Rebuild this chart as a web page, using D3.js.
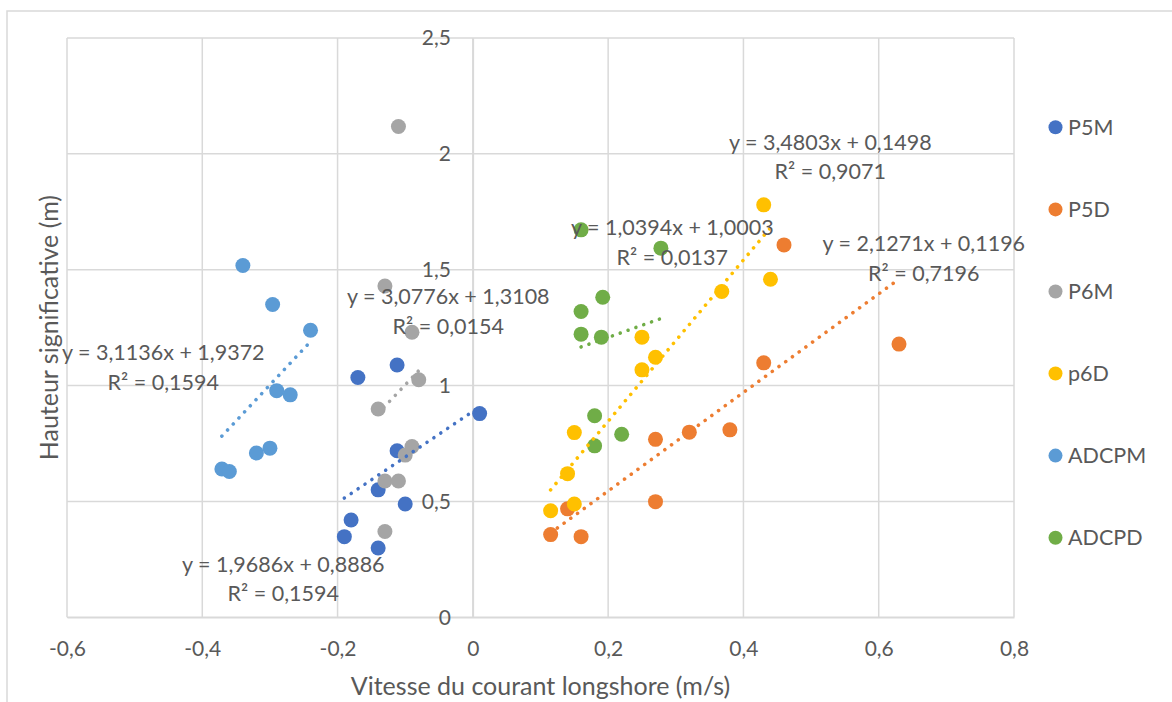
<!DOCTYPE html>
<html lang="fr">
<head>
<meta charset="utf-8">
<title>Hauteur significative vs courant longshore</title>
<script src="https://cdn.jsdelivr.net/npm/d3@7"></script>
<style>
  body { margin: 0; background: #fff; }
  text { font-family: Lato, "Open Sans", sans-serif; fill: #595959; }
</style>
</head>
<body>
<script>
// series (Excel order, later ones drawn on top)
var seriesNames  = ["P5M", "P5D", "P6M", "p6D", "ADCPM", "ADCPD"];
var seriesColors = ["#4472C4", "#ED7D31", "#A5A5A5", "#FFC000", "#5B9BD5", "#70AD47"];

// values
var p5mX   = [-0.17, -0.112, -0.112, -0.14, -0.18, -0.19, -0.14, 0.01, -0.10];
var p5mY   = [1.035, 1.089, 0.719, 0.55, 0.42, 0.348, 0.299, 0.879, 0.489];
var p5dX   = [0.46, 0.63, 0.43, 0.38, 0.32, 0.27, 0.27, 0.14, 0.115, 0.16];
var p5dY   = [1.607, 1.179, 1.098, 0.809, 0.799, 0.768, 0.499, 0.468, 0.357, 0.348];
var p6mX   = [-0.11, -0.13, -0.09, -0.08, -0.14, -0.09, -0.10, -0.13, -0.11, -0.13];
var p6mY   = [2.118, 1.43, 1.23, 1.025, 0.899, 0.737, 0.70, 0.588, 0.588, 0.37];
var p6dX   = [0.43, 0.44, 0.368, 0.25, 0.27, 0.25, 0.15, 0.14, 0.15, 0.115];
var p6dY   = [1.78, 1.459, 1.406, 1.209, 1.122, 1.068, 0.797, 0.62, 0.489, 0.46];
var adcpmX = [-0.34, -0.296, -0.24, -0.29, -0.27, -0.32, -0.30, -0.371, -0.36];
var adcpmY = [1.518, 1.35, 1.239, 0.978, 0.96, 0.709, 0.73, 0.64, 0.629];
var adcpdX = [0.16, 0.278, 0.192, 0.16, 0.16, 0.19, 0.18, 0.22, 0.18];
var adcpdY = [1.672, 1.593, 1.381, 1.32, 1.222, 1.209, 0.87, 0.79, 0.74];

var seriesX = [p5mX, p5dX, p6mX, p6dX, adcpmX, adcpdX];
var seriesY = [p5mY, p5dY, p6mY, p6dY, adcpmY, adcpdY];

// linear trendlines as printed on the chart
var trendSlope     = [1.9686, 2.1271, 3.0776, 3.4803, 3.1136, 1.0394];
var trendIntercept = [0.8886, 0.1196, 1.3108, 0.1498, 1.9372, 1.0003];
var trendR2        = [0.1594, 0.7196, 0.0154, 0.9071, 0.1594, 0.0137];

// axis ticks
var xTicks = [-0.6, -0.4, -0.2, 0, 0.2, 0.4, 0.6, 0.8];
var yTicks = [0, 0.5, 1, 1.5, 2, 2.5];

// where Excel left the equation boxes (data units, centre of first line)
var labelAnchorX = [-0.2803, 0.6666, -0.0364, 0.5284, -0.4577, 0.2948];
var labelAnchorY = [0.2288, 1.6118, 1.3843, 2.051, 1.1425, 1.6822];

var w = 1172, h = 702;
var plot = { left: 67, right: 1014, top: 38, bottom: 617.3 };
var gridColor = "#D9D9D9";

var svg = d3.select("body").append("svg")
    .attr("width", w)
    .attr("height", h);

// chart area border (cropped on right / bottom)
svg.append("rect")
    .attr("x", 7).attr("y", 11)
    .attr("width", w + 20).attr("height", h + 20)
    .attr("fill", "#fff")
    .attr("stroke", gridColor)
    .attr("stroke-width", 1.5);

var x = d3.scaleLinear().domain([-0.6, 0.8]).range([plot.left, plot.right]);
var y = d3.scaleLinear().domain([0, 2.5]).range([plot.bottom, plot.top]);

function frNum(v, digits) {
    var s = digits === undefined ? String(+v.toFixed(4)) : v.toFixed(digits);
    return s.replace(".", ",");
}

// gridlines
svg.append("g").selectAll("line")
    .data(xTicks)
    .enter().append("line")
    .attr("x1", d => x(d)).attr("x2", d => x(d))
    .attr("y1", plot.top).attr("y2", plot.bottom)
    .attr("stroke", gridColor).attr("stroke-width", 1.5);

svg.append("g").selectAll("line")
    .data(yTicks)
    .enter().append("line")
    .attr("x1", plot.left).attr("x2", plot.right)
    .attr("y1", d => y(d)).attr("y2", d => y(d))
    .attr("stroke", gridColor).attr("stroke-width", 1.5);

// axes: y axis crosses at x = 0, x axis labels below the plot
var xAxis = d3.axisBottom(x).tickValues(xTicks).tickSize(0).tickPadding(24)
    .tickFormat(d => frNum(d));
var yAxis = d3.axisLeft(y).tickValues(yTicks).tickSize(0).tickPadding(22)
    .tickFormat(d => frNum(d));

var gx = svg.append("g")
    .attr("transform", "translate(0," + plot.bottom + ")")
    .call(xAxis);
gx.select(".domain").attr("stroke", gridColor).attr("stroke-width", 1.5);

var gy = svg.append("g")
    .attr("transform", "translate(" + x(0) + ",0)")
    .call(yAxis);
gy.select(".domain").attr("stroke", gridColor).attr("stroke-width", 1.5);

svg.selectAll(".tick text")
    .attr("font-family", "Lato, sans-serif")
    .attr("font-size", "21px")
    .attr("fill", "#595959");

// markers
seriesNames.forEach(function(name, i) {
    var pts = seriesX[i].map((v, j) => [v, seriesY[i][j]]);
    svg.append("g").selectAll("circle")
        .data(pts)
        .enter().append("circle")
        .attr("cx", d => x(d[0]))
        .attr("cy", d => y(d[1]))
        .attr("r", 7.5)
        .attr("fill", seriesColors[i]);
});

// trendlines (round dots), from min x to max x of each series
seriesNames.forEach(function(name, i) {
    var x0 = d3.min(seriesX[i]), x1 = d3.max(seriesX[i]);
    svg.append("line")
        .attr("x1", x(x0)).attr("y1", y(trendSlope[i] * x0 + trendIntercept[i]))
        .attr("x2", x(x1)).attr("y2", y(trendSlope[i] * x1 + trendIntercept[i]))
        .attr("stroke", seriesColors[i])
        .attr("stroke-width", 3.6)
        .attr("stroke-linecap", "round")
        .attr("stroke-dasharray", "0.01 8.3");
});

// equation labels
seriesNames.forEach(function(name, i) {
    var cx = x(labelAnchorX[i]), cy = y(labelAnchorY[i]);
    var t = svg.append("text")
        .attr("text-anchor", "middle")
        .attr("font-size", "21.5px");
    t.append("tspan")
        .attr("x", cx).attr("y", cy).attr("dy", "0.35em")
        .text("y = " + frNum(trendSlope[i], 4) + "x + " + frNum(trendIntercept[i], 4));
    t.append("tspan")
        .attr("x", cx).attr("y", cy + 29.5).attr("dy", "0.35em")
        .text("R\u00B2 = " + frNum(trendR2[i], 4));
});

// axis titles
svg.append("text")
    .attr("x", (plot.left + plot.right) / 2)
    .attr("y", 686)
    .attr("dy", "0.35em")
    .attr("text-anchor", "middle")
    .attr("font-size", "25px")
    .text("Vitesse du courant longshore (m/s)");

svg.append("text")
    .attr("transform", "translate(49," + (plot.top + plot.bottom) / 2 + ") rotate(-90)")
    .attr("dy", "0.35em")
    .attr("text-anchor", "middle")
    .attr("font-size", "25px")
    .text("Hauteur significative (m)");

// legend
var legend = svg.append("g");
seriesNames.forEach(function(name, i) {
    var ly = 127.3 + i * 82.08;
    legend.append("circle")
        .attr("cx", 1055.5).attr("cy", ly).attr("r", 7)
        .attr("fill", seriesColors[i]);
    legend.append("text")
        .attr("x", 1068).attr("y", ly).attr("dy", "0.35em")
        .attr("font-size", "21.5px")
        .text(name);
});
</script>
</body>
</html>
